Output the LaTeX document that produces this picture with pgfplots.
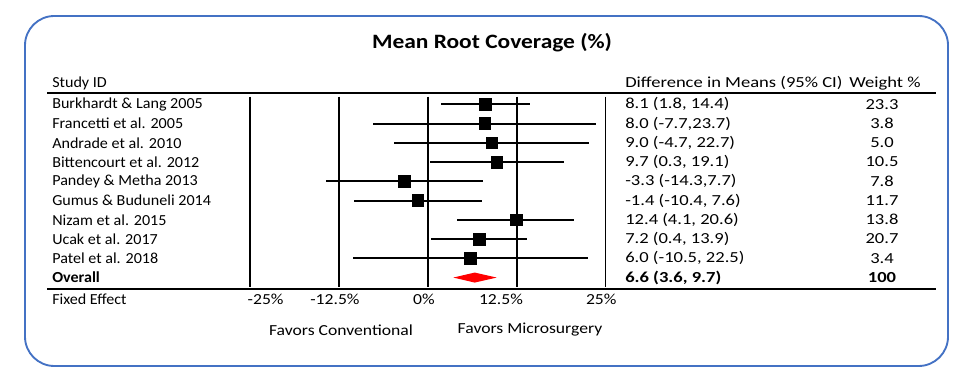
\documentclass[border=0pt]{standalone}
\usepackage{pgfplots}
\pgfplotsset{compat=1.18}
\usepackage{pgfplotstable}
\usepackage{fontspec}
\setmainfont{Carlito}[FakeStretch=1.15]
\newfontfamily\namefont{Carlito}[FakeStretch=1.05]
\newfontfamily\colfont{Carlito}[FakeStretch=1.21]
\definecolor{boxblue}{RGB}{68,114,196}
\pgfplotstableread{
i m lo hi
1 8.1 1.8 14.4
2 8.0 -7.7 23.7
3 9.0 -4.7 22.7
4 9.7 0.3 19.1
5 -3.3 -14.3 7.7
6 -1.4 -10.4 7.6
7 12.4 4.1 20.6
8 7.2 0.4 13.9
9 6.0 -10.5 22.5
}\studies
\newcommand{\tf}{\fontsize{11.5}{13}\selectfont}
\begin{document}
\begin{tikzpicture}[x=0.75pt,y=0.75pt]
\useasboundingbox (0,0) rectangle (962,374);
\draw[boxblue, line width=1.4pt, rounded corners=22pt] (25,358) rectangle (948,8);
\node[font=\fontsize{15.3}{18}\selectfont\bfseries] at (492,331) {Mean Root Coverage (\%)};
\node[font=\tf\namefont, anchor=west, inner sep=0pt] at (52,291) {Study ID};
\node[font=\tf\colfont, anchor=west, inner sep=0pt] at (625,291) {Difference in Means (95\% CI)};
\node[font=\tf\colfont, anchor=west, inner sep=0pt] at (849,291) {Weight \%};
\draw[line width=1pt] (47,281) -- (936,281);
\draw[line width=1pt] (47,85) -- (936,85);
\node[font=\tf\namefont, anchor=west, inner sep=0pt] at (52,75) {Fixed Effect};
\node[font=\tf] at (341,44) {Favors Conventional};
\node[font=\tf] at (530,44) {Favors Microsurgery};
\begin{axis}[at={(187.5pt,65.25pt)}, anchor=south west, scale only axis,
  width=266.625pt, height=142.7pt,
  xmin=-25, xmax=25, ymin=0.605, ymax=10.49, y dir=reverse,
  clip=false, axis line style={draw=none}, major tick length=0pt,
  xtick={-22.8,-13.05,-0.53,10.3,24.4},
  xticklabels={-25\%,-12.5\%,0\%,12.5\%,25\%},
  extra x ticks={-25,-12.5,0,12.5,25},
  extra x tick labels={},
  extra x tick style={xmajorgrids=true, major grid style={black, line width=1.4pt}},
  xticklabel style={font=\tf, anchor=center, yshift=-9pt},
  ytick={1,...,10},
  yticklabels={Burkhardt \& Lang 2005, Francetti et al. 2005, Andrade et al. 2010, Bittencourt et al. 2012, Pandey \& Metha 2013, Gumus \& Buduneli 2014, Nizam et al. 2015, Ucak et al. 2017, Patel et al. 2018, \textbf{Overall}},
  yticklabel style={font=\tf\namefont, anchor=west, inner sep=0pt, xshift=-148.5pt},
]
\addplot[black, only marks, mark=square*, mark size=4.4pt,
  error bars/.cd, x dir=both, x explicit, error mark=none,
  error bar style={line width=1.4pt, black}]
  table[x=m, y=i, x error plus expr=\thisrow{hi}-\thisrow{m}, x error minus expr=\thisrow{m}-\thisrow{lo}] {\studies};
\addplot[fill=red, draw=none] coordinates {(3.6,10) (6.6,9.74) (9.7,10) (6.6,10.26)};
\end{axis}
\foreach \y/\t/\w in {
  269.7/{8.1 (1.8, 14.4)}/{23.3},
  250.45/{8.0 (-7.7,23.7)}/{3.8},
  231.2/{9.0 (-4.7, 22.7)}/{5.0},
  211.95/{9.7 (0.3, 19.1)}/{10.5},
  192.7/{-3.3 (-14.3,7.7)}/{7.8},
  173.45/{-1.4 (-10.4, 7.6)}/{11.7},
  154.2/{12.4 (4.1, 20.6)}/{13.8},
  134.95/{7.2 (0.4, 13.9)}/{20.7},
  115.7/{6.0 (-10.5, 22.5)}/{3.4}}{
  \node[font=\tf\colfont, anchor=west, inner sep=0pt] at (625,\y) {\t};
  \node[font=\tf\colfont, inner sep=0pt] at (882,\y) {\w};
}
\node[font=\tf\colfont\bfseries, anchor=west, inner sep=0pt] at (625,96.45) {6.6 (3.6, 9.7)};
\node[font=\tf\colfont\bfseries, inner sep=0pt] at (882,96.45) {100};
\end{tikzpicture}
\end{document}
